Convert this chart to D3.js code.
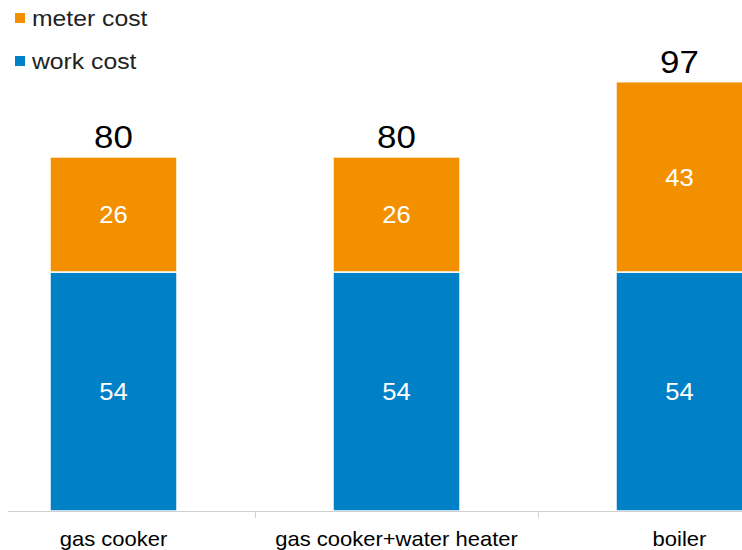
<!DOCTYPE html>
<html>
<head>
<meta charset="utf-8">
<script src="https://cdn.jsdelivr.net/npm/d3@7.9.0/dist/d3.min.js"></script>
<style>
  html, body { margin: 0; padding: 0; background: #fff; }
  svg { display: block; font-family: "Liberation Sans", Arial, sans-serif; }
</style>
</head>
<body>
<svg id="chart" width="742" height="550"></svg>
<script>
// data
const categories = ['gas cooker', 'gas cooker+water heater', 'boiler'];
const workCost = [54, 54, 54];
const meterCost = [26, 26, 43];
const seriesNames = ['work cost', 'meter cost'];
const colors = { 'work cost': '#0080c6', 'meter cost': '#f39000' };

const width = 742, height = 550;
const svg = d3.select('#chart');
// original text looks a bit wider than it is tall
const stretch = 1.1;
const place = (x, y) => `translate(${x},${y}) scale(${stretch},1)`;

// the plot runs a little past the right edge, like the original
const x = d3.scaleBand()
  .domain(categories)
  .range([-28, 821])
  .paddingInner(0)
  .paddingOuter(0);
const barW = 127;

const y = d3.scaleLinear()
  .domain([0, 97])
  .range([511, 511 - 97 * 4.426]);

const rows = categories.map((c, i) => ({
  category: c,
  'work cost': workCost[i],
  'meter cost': meterCost[i]
}));
const stacked = d3.stack().keys(seriesNames)(rows);

// bars
const layers = svg.selectAll('g.layer')
  .data(stacked)
  .enter().append('g')
  .attr('class', 'layer')
  .attr('fill', d => colors[d.key]);

layers.selectAll('rect')
  .data(d => d)
  .enter().append('rect')
  .attr('x', d => x(d.data.category) + (x.bandwidth() - barW) / 2)
  .attr('width', barW)
  .attr('y', d => y(d[1]))
  .attr('height', d => y(d[0]) - y(d[1]))
  .attr('stroke', '#fff')
  .attr('stroke-width', 1.5);

// segment value labels
layers.selectAll('text')
  .data(d => d)
  .enter().append('text')
  .attr('transform', d => place(x(d.data.category) + x.bandwidth() / 2, (y(d[0]) + y(d[1])) / 2 + 9))
  .attr('text-anchor', 'middle')
  .attr('fill', '#fff')
  .attr('font-size', 23.3)
  .text(d => d[1] - d[0]);

// totals
svg.append('g').selectAll('text')
  .data(rows)
  .enter().append('text')
  .attr('transform', d => place(x(d.category) + x.bandwidth() / 2, y(d['work cost'] + d['meter cost']) - 9))
  .attr('text-anchor', 'middle')
  .attr('fill', '#000')
  .attr('font-size', 31.7)
  .text(d => d['work cost'] + d['meter cost']);

// x axis
const axis = svg.append('g');
axis.append('line')
  .attr('x1', 8).attr('x2', width)
  .attr('y1', 511.5).attr('y2', 511.5)
  .attr('stroke', '#d0d0d0').attr('stroke-width', 1);
axis.selectAll('line.tick')
  .data(categories.slice(1))
  .enter().append('line')
  .attr('class', 'tick')
  .attr('x1', d => Math.round(x(d)) + 0.5).attr('x2', d => Math.round(x(d)) + 0.5)
  .attr('y1', 511).attr('y2', 518)
  .attr('stroke', '#d0d0d0');
axis.selectAll('text')
  .data(categories)
  .enter().append('text')
  .attr('transform', d => place(x(d) + x.bandwidth() / 2, 546))
  .attr('text-anchor', 'middle')
  .attr('fill', '#000')
  .attr('font-size', 20)
  .text(d => d);

// legend
const legendItems = ['meter cost', 'work cost'];
const legend = svg.append('g').selectAll('g')
  .data(legendItems)
  .enter().append('g')
  .attr('transform', (d, i) => `translate(15, ${26 + i * 43})`);
legend.append('rect')
  .attr('x', 0).attr('y', -13)
  .attr('width', 10).attr('height', 10)
  .attr('fill', d => colors[d]);
legend.append('text')
  .attr('transform', place(17, 0))
  .attr('font-size', 22.5)
  .attr('fill', '#222')
  .text(d => d);
</script>
</body>
</html>
